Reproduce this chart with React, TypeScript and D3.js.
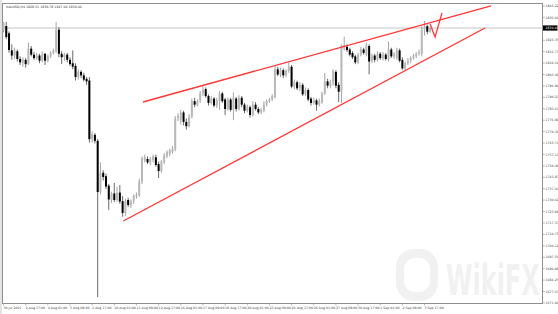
import React from 'react';
import * as d3 from 'd3';

const chartTitle = 'XAUUSD,H4  1828.31 1830.78 1827.60 1830.46';
const bidPrice = 1830.46;
const watermarkText = 'WikiFX';

const opens = [
  1828.9, 1831.6, 1827.4, 1817.5, 1814.5, 1817.0, 1812.5, 1810.5, 1812.0, 1809.5,
  1818.5, 1815.0, 1813.0, 1814.5, 1811.5, 1815.5, 1811.5, 1814.0, 1816.0, 1817.0,
  1829.5, 1815.5, 1813.5, 1815.0, 1812.0, 1810.0, 1808.5, 1802.0, 1805.0, 1803.0,
  1801.0, 1800.0, 1766.0, 1768.5, 1765.0, 1735.5, 1746.5, 1744.5, 1739.0, 1730.7,
  1734.5, 1730.7, 1735.0, 1730.0, 1723.2, 1730.7, 1728.0, 1730.0, 1732.8, 1733.5,
  1741.5, 1753.5, 1754.5, 1752.5, 1754.0, 1755.5, 1751.5, 1747.5, 1752.5, 1756.0,
  1757.5, 1758.5, 1760.0, 1778.0, 1777.0, 1781.5, 1776.0, 1773.5, 1779.0, 1788.0,
  1786.0, 1788.0, 1792.5, 1795.0, 1791.0, 1787.0, 1789.5, 1785.5, 1788.0, 1792.5,
  1789.0, 1783.5, 1789.0, 1783.0, 1789.5, 1783.5, 1790.0, 1786.0, 1782.5, 1784.5,
  1780.0, 1786.0, 1783.5, 1781.5, 1782.5, 1786.0, 1788.0, 1789.0, 1790.5, 1806.5,
  1803.5, 1806.0, 1803.0, 1805.5, 1808.0, 1796.5, 1799.0, 1795.5, 1797.5, 1792.0,
  1794.5, 1789.5, 1787.0, 1788.5, 1786.0, 1787.5, 1792.5, 1799.5, 1797.0, 1799.0,
  1805.0, 1797.5, 1793.5, 1818.5, 1819.6, 1818.0, 1816.0, 1814.0, 1810.5, 1815.0,
  1818.0, 1815.0, 1820.0, 1811.5, 1814.5, 1812.0, 1815.5, 1813.0, 1815.0, 1812.0,
  1818.0, 1814.0, 1813.0, 1817.5, 1812.0, 1807.0, 1810.0, 1811.5, 1813.0, 1814.0,
  1815.5, 1815.5, 1829.5, 1831.5, 1828.3,
];
const highs = [
  1834.0, 1834.0, 1828.5, 1821.0, 1819.0, 1818.0, 1814.0, 1813.5, 1813.0, 1822.0,
  1820.0, 1816.5, 1816.0, 1815.5, 1817.0, 1816.0, 1815.0, 1817.0, 1818.5, 1834.0,
  1831.0, 1817.0, 1816.0, 1816.0, 1813.5, 1817.5, 1810.0, 1806.5, 1806.0, 1804.5,
  1802.0, 1802.0, 1770.5, 1769.5, 1766.0, 1752.5, 1748.0, 1746.0, 1740.0, 1735.5,
  1740.6, 1738.4, 1739.4, 1733.0, 1731.5, 1732.0, 1731.0, 1734.0, 1735.0, 1743.0,
  1756.0, 1757.0, 1756.0, 1755.5, 1757.0, 1757.0, 1753.0, 1754.0, 1758.0, 1759.5,
  1760.5, 1762.0, 1779.5, 1781.0, 1783.0, 1782.5, 1778.0, 1780.5, 1789.5, 1790.0,
  1789.0, 1794.0, 1796.5, 1796.0, 1792.0, 1791.0, 1790.5, 1790.0, 1794.0, 1793.5,
  1790.0, 1790.0, 1790.0, 1793.0, 1790.5, 1791.5, 1791.0, 1787.0, 1786.0, 1785.5,
  1788.0, 1787.5, 1784.5, 1784.0, 1788.0, 1789.0, 1790.0, 1792.0, 1808.5, 1808.0,
  1807.5, 1807.0, 1806.5, 1810.5, 1809.0, 1800.5, 1800.0, 1799.0, 1798.5, 1796.0,
  1795.5, 1790.5, 1790.0, 1789.5, 1789.5, 1793.5, 1804.5, 1801.0, 1800.5, 1806.5,
  1806.0, 1799.0, 1821.0, 1825.4, 1821.0, 1819.0, 1817.0, 1815.0, 1816.0, 1819.5,
  1819.0, 1822.0, 1821.0, 1815.5, 1815.5, 1817.0, 1816.5, 1816.5, 1816.0, 1822.5,
  1819.0, 1816.5, 1819.0, 1818.5, 1813.5, 1811.0, 1813.0, 1814.0, 1815.5, 1816.5,
  1818.0, 1831.5, 1834.5, 1832.5, 1830.8,
];
const lows = [
  1828.0, 1824.0, 1816.1, 1812.0, 1812.5, 1811.0, 1809.0, 1808.0, 1807.5, 1809.0,
  1814.0, 1812.0, 1812.0, 1810.0, 1810.5, 1809.0, 1810.5, 1813.0, 1815.0, 1816.0,
  1813.5, 1809.5, 1811.5, 1810.5, 1808.5, 1806.5, 1800.0, 1800.5, 1801.5, 1799.5,
  1797.5, 1764.0, 1764.0, 1763.5, 1674.4, 1734.0, 1742.0, 1737.0, 1725.0, 1729.0,
  1729.5, 1729.8, 1728.5, 1721.0, 1721.5, 1726.5, 1726.0, 1728.5, 1731.5, 1732.5,
  1740.0, 1752.5, 1751.5, 1751.0, 1752.5, 1750.0, 1743.5, 1746.5, 1751.5, 1755.0,
  1756.0, 1757.5, 1759.0, 1776.5, 1774.5, 1774.0, 1771.5, 1772.8, 1778.0, 1784.5,
  1785.0, 1787.0, 1791.0, 1790.0, 1785.5, 1786.0, 1784.5, 1784.0, 1783.0, 1787.0,
  1780.0, 1782.5, 1782.0, 1777.0, 1782.0, 1782.5, 1784.5, 1781.0, 1781.5, 1778.5,
  1779.0, 1782.5, 1780.5, 1780.5, 1781.5, 1785.0, 1787.0, 1788.0, 1789.5, 1802.5,
  1802.0, 1801.5, 1802.0, 1804.5, 1795.5, 1795.0, 1794.5, 1794.0, 1791.0, 1791.0,
  1788.0, 1785.5, 1786.0, 1782.5, 1785.0, 1786.5, 1791.5, 1795.5, 1795.5, 1797.0,
  1795.5, 1787.5, 1787.0, 1817.5, 1816.5, 1814.0, 1812.5, 1809.5, 1809.5, 1814.0,
  1815.0, 1814.0, 1803.5, 1810.0, 1810.5, 1811.0, 1812.0, 1811.5, 1811.5, 1811.0,
  1813.0, 1812.5, 1812.0, 1810.5, 1806.3, 1806.0, 1809.0, 1810.0, 1812.0, 1813.0,
  1814.5, 1814.0, 1826.0, 1826.8, 1827.6,
];
const closes = [
  1833.4, 1825.2, 1817.7, 1814.5, 1817.5, 1812.5, 1810.5, 1812.0, 1809.5, 1818.5,
  1815.0, 1813.0, 1814.5, 1811.5, 1815.5, 1811.5, 1814.0, 1816.0, 1817.5, 1829.5,
  1815.5, 1813.5, 1815.0, 1812.0, 1809.5, 1808.0, 1802.0, 1805.0, 1803.0, 1800.5,
  1799.5, 1766.0, 1769.0, 1765.0, 1735.3, 1746.5, 1744.0, 1738.5, 1731.0, 1734.5,
  1730.7, 1735.0, 1729.8, 1723.2, 1730.2, 1727.8, 1730.0, 1733.0, 1733.7, 1741.5,
  1754.9, 1755.5, 1752.5, 1754.5, 1756.0, 1751.0, 1747.5, 1753.0, 1756.5, 1758.5,
  1759.5, 1760.5, 1778.0, 1779.5, 1781.5, 1776.0, 1773.5, 1779.0, 1788.0, 1786.0,
  1788.0, 1792.5, 1794.5, 1791.0, 1787.0, 1789.5, 1785.5, 1788.5, 1792.5, 1788.0,
  1783.5, 1789.0, 1783.0, 1790.0, 1783.5, 1790.0, 1786.0, 1782.5, 1784.5, 1780.0,
  1786.0, 1783.5, 1781.5, 1783.0, 1786.0, 1788.0, 1789.0, 1791.0, 1806.5, 1803.5,
  1806.0, 1803.0, 1805.5, 1808.0, 1796.5, 1799.0, 1795.5, 1797.5, 1792.0, 1794.5,
  1789.0, 1787.0, 1788.5, 1786.0, 1788.0, 1792.5, 1799.5, 1797.0, 1799.0, 1805.5,
  1797.0, 1793.5, 1820.5, 1820.5, 1817.7, 1815.0, 1813.5, 1810.5, 1815.0, 1818.0,
  1816.0, 1820.5, 1811.0, 1814.5, 1812.0, 1815.5, 1813.0, 1815.0, 1812.5, 1818.0,
  1814.0, 1815.5, 1817.5, 1811.5, 1807.0, 1810.0, 1811.5, 1813.0, 1814.5, 1815.5,
  1816.5, 1829.5, 1831.5, 1828.3, 1830.46,
];

const timeLabels = [
  '30 Jul 2021', '2 Aug 17:00', '4 Aug 01:00', '5 Aug 09:00', '6 Aug 17:00',
  '10 Aug 01:00', '11 Aug 09:00', '12 Aug 17:00', '16 Aug 01:00', '17 Aug 09:00',
  '18 Aug 17:00', '20 Aug 01:00', '23 Aug 09:00', '24 Aug 17:00', '26 Aug 01:00',
  '27 Aug 09:00', '30 Aug 17:00', '1 Sep 01:00', '2 Sep 09:00', '3 Sep 17:00',
];
const barsPerLabel = 8;

const priceLabels = [
  1843.22, 1836.60, 1829.97, 1823.35, 1816.73, 1810.10, 1803.48, 1796.86, 1790.23,
  1783.61, 1776.98, 1770.36, 1763.74, 1757.11, 1750.49, 1743.87, 1737.24, 1730.62,
  1723.99, 1717.37, 1710.75, 1704.12, 1697.50, 1690.88, 1684.25, 1677.63, 1671.00,
];

// trend lines: [bar index, price]
const upperTrend: [number, number][] = [[50.36, 1787.54], [176.0, 1843.3]];
const lowerTrend: [number, number][] = [[43.25, 1718.52], [173.83, 1830.46]];
const forecastPath: [number, number][] = [[154.0, 1832.8], [155.8, 1825.2], [158.3, 1839.2]];

const W = 558;
const H = 314;
const plotLeft = 2.5;
const plotRight = 542.5;
const plotTop = 3.5;
const plotBottom = 303.5;

export default function App() {
  const x = d3.scaleLinear().domain([0, 194]).range([3.5, 3.5 + 194 * 2.77]);
  const y = d3.scaleLinear().domain([1670.96, 1843.22]).range([303, 6]);
  const line = d3.line<[number, number]>().x(d => x(d[0])).y(d => y(d[1]));
  const fontFamily = '"DejaVu Sans", Arial, sans-serif';
  const yBid = y(bidPrice);
  const tickFont = 3.2;

  return (
    <svg width={W} height={H} style={{ position: 'absolute', left: 0, top: 0, background: '#fff' }}
      fontFamily={fontFamily}>
      <rect x={0} y={0} width={W} height={H} fill="#fff" />
      <rect x={0} y={0} width={2} height={H} fill="#e4e4e4" />

      {/* watermark */}
      <g opacity={0.05}>
        <rect x={396} y={249} width={42} height={52} rx={18} fill="#000" />
        <rect x={404} y={258} width={26} height={34} rx={11} fill="#fff" />
        <text transform="translate(446,295) scale(1,1.75)" x={0} y={0} fontSize={24}
          fontWeight="bold" fill="#000">{watermarkText}</text>
      </g>

      {/* frame */}
      <rect x={plotLeft} y={plotTop} width={plotRight - plotLeft} height={plotBottom - plotTop}
        fill="none" stroke="#8f8f8f" strokeWidth={1} />

      {/* bid line */}
      <line x1={plotLeft} x2={plotRight} y1={yBid} y2={yBid} stroke="#c4c4c4" strokeWidth={1} />

      {/* candles */}
      {opens.map((o, i) => {
        const c = closes[i];
        const up = c >= o;
        const cx = x(i);
        const top = y(Math.max(o, c));
        const bot = y(Math.min(o, c));
        return (
          <g key={i}>
            <line x1={cx} x2={cx} y1={y(highs[i])} y2={y(lows[i])}
              stroke={up ? '#a4a4a4' : '#6a6a6a'} strokeWidth={1} />
            <rect x={cx - 1} y={top} width={2} height={Math.max(bot - top, 0.8)}
              fill={up ? '#b8b8b8' : '#000'} />
          </g>
        );
      })}

      {/* trend lines */}
      <path d={line(upperTrend) || ''} fill="none" stroke="#ff3434" strokeWidth={1.3} />
      <path d={line(lowerTrend) || ''} fill="none" stroke="#ff3434" strokeWidth={1.3} />
      <path d={line(forecastPath) || ''} fill="none" stroke="#ff3434" strokeWidth={1.3} />

      {/* title */}
      <text x={6} y={7.6} fontSize={tickFont} fill="#333">{chartTitle}</text>

      {/* price axis */}
      {priceLabels.map((v, i) => {
        const yy = y(v);
        if (Math.abs(yy - yBid) < 4) return null;
        return (
          <g key={i}>
            <line x1={plotRight} x2={plotRight + 2.5} y1={yy} y2={yy} stroke="#8f8f8f" strokeWidth={0.6} />
            <text x={545.5} y={yy + 1.1} fontSize={tickFont} fill="#444">{v.toFixed(2)}</text>
          </g>
        );
      })}
      <rect x={543} y={yBid - 2.6} width={14.5} height={5.2} fill="#000" />
      <text x={545.3} y={yBid + 1.1} fontSize={tickFont} fill="#fff">{bidPrice.toFixed(2)}</text>

      {/* time axis */}
      {timeLabels.map((t, k) => {
        const xx = x(k * barsPerLabel);
        return (
          <g key={t}>
            <line x1={xx} x2={xx} y1={plotBottom} y2={plotBottom + 2} stroke="#8f8f8f" strokeWidth={0.6} />
            <text x={xx} y={308.6} fontSize={tickFont} fill="#444">{t}</text>
          </g>
        );
      })}
    </svg>
  );
}
